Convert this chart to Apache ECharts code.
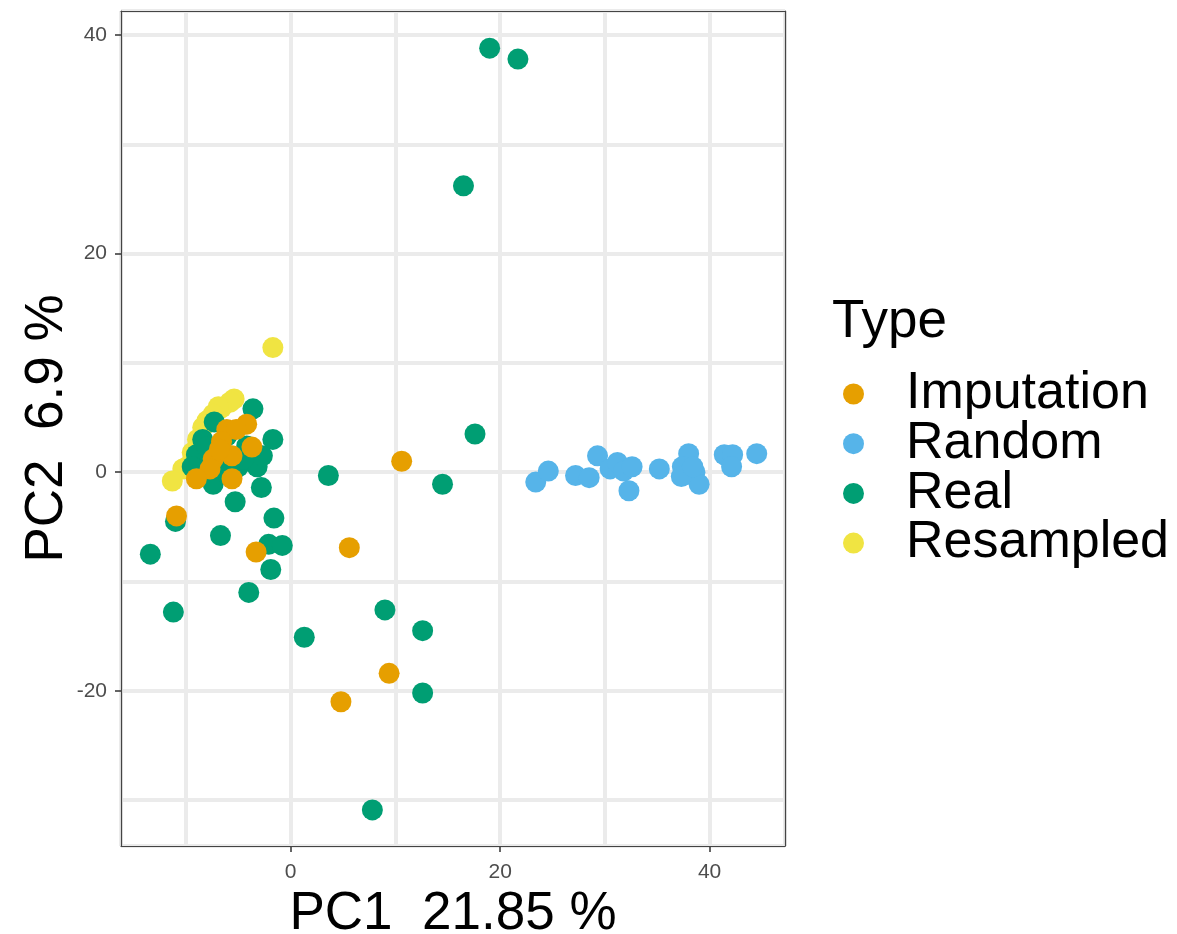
<!DOCTYPE html>
<html>
<head>
<meta charset="utf-8">
<title>PCA</title>
<script src="https://cdn.jsdelivr.net/npm/echarts@6/dist/echarts.min.js"></script>
<style>
  html, body { margin: 0; padding: 0; background: #fff; }
  #main { width: 1177px; height: 934px; }
</style>
</head>
<body>
<div id="main"></div>
<script>
// PC1 / PC2 scores, one array per Type
var types = ['Imputation', 'Random', 'Real', 'Resampled'];

var imputation = [
  [-10.9, -4.0], [-3.3, -7.3], [10.6, 1.0], [5.6, -6.9], [9.4, -18.4], [4.8, -21.0],
  [-4.2, 4.4], [-6.1, 3.9], [-5.2, 3.9], [-6.6, 2.8], [-3.7, 2.3], [-5.6, 1.5],
  [-7.4, 1.2], [-7.7, 0.3], [-9.0, -0.6], [-5.6, -0.6], [-6.8, 2.1]
];

var random = [
  [23.4, -0.9], [24.6, 0.1], [27.2, -0.3], [28.5, -0.5], [29.3, 1.5], [30.5, 0.3],
  [31.2, 0.9], [31.8, 0.1], [32.6, 0.5], [32.3, -1.7], [35.2, 0.3], [38.0, 1.7],
  [37.4, 0.5], [37.8, -0.2], [38.6, 0.0], [39.0, -1.1], [37.3, -0.4], [38.4, 0.5],
  [41.4, 1.6], [42.2, 1.6], [42.1, 0.5], [44.5, 1.7]
];

var real = [
  [19.0, 38.8], [21.7, 37.8], [16.5, 26.2], [17.6, 3.5], [14.5, -1.1], [3.6, -0.3],
  [-13.4, -7.5], [-11.0, -4.5], [-6.7, -5.8], [-1.6, -4.2], [-2.1, -6.6], [-0.8, -6.7],
  [-1.9, -8.9], [-4.0, -11.0], [-11.2, -12.8], [1.3, -15.1], [-5.3, -2.7], [9.0, -12.6],
  [12.6, -14.5], [12.6, -20.2], [7.8, -30.9],
  [-3.6, 5.8], [-1.7, 3.0], [-2.8, -1.4], [-7.3, 4.6], [-9.0, 1.6], [-9.4, 0.5],
  [-7.4, -1.1], [-3.2, 0.5], [-2.7, 1.5], [-4.2, 2.4], [-8.4, 3.0], [-6.1, 3.3],
  [-6.5, 1.0], [-5.0, 0.5], [-4.5, 1.2], [-8.0, 2.3], [-6.0, -0.2]
];

var resampled = [
  [-1.7, 11.4], [-5.4, 6.7], [-5.8, 6.4], [-6.6, 5.9], [-6.9, 6.0], [-7.4, 5.3],
  [-8.0, 4.7], [-8.4, 4.1], [-8.9, 3.0], [-9.4, 1.8], [-9.9, 0.5], [-10.3, 0.3],
  [-11.3, -0.8]
];

var xRange = [-16.2, 47.2];
var yRange = [-34.2, 42.2];

var colors = {
  Imputation: '#E69F00',
  Random: '#56B4E9',
  Real: '#009E73',
  Resampled: '#F0E442'
};

var chart = echarts.init(document.getElementById('main'));

function pts(name, data) {
  return {
    name: name,
    type: 'scatter',
    data: data,
    symbol: 'circle',
    symbolSize: 21,
    itemStyle: { color: colors[name], opacity: 1 },
    emphasis: { disabled: true }
  };
}

var gridLine = { show: true, lineStyle: { color: '#ebebeb', width: 4 } };

// extra axes that only draw the panel border, above the grey grid lines
function borderAxis(pos, range) {
  return {
    type: 'value', position: pos, min: range[0], max: range[1], z: 5,
    axisLine: { show: true, onZero: false, lineStyle: { color: '#444', width: 1.2 } },
    axisTick: { show: false }, axisLabel: { show: false }, splitLine: { show: false }
  };
}

option = {
  backgroundColor: '#fff',
  animation: false,
  textStyle: { fontFamily: 'Liberation Sans, Arial, sans-serif' },
  title: {
    text: 'Type',
    left: 832,
    top: 296,
    padding: 0,
    textStyle: { fontSize: 53, fontWeight: 'normal', color: '#000' }
  },
  legend: {
    orient: 'vertical',
    left: 843,
    top: 368,
    padding: 0,
    itemGap: -2.3,
    itemWidth: 21,
    itemHeight: 21,
    icon: 'circle',
    data: types,
    textStyle: { fontSize: 52, lineHeight: 49.5, color: '#000', padding: [0, 0, 0, 37] }
  },
  grid: { left: 121, right: 392, top: 11, bottom: 88, outerBoundsMode: 'none', containLabel: false },
  xAxis: [{
    type: 'value',
    position: 'bottom',
    min: xRange[0],
    max: xRange[1],
    splitNumber: 3,
    name: 'PC1  21.85 %',
    nameLocation: 'middle',
    nameGap: 36,
    nameTextStyle: { fontSize: 53, color: '#000' },
    axisLine: { show: false, onZero: false },
    axisTick: { show: true, length: 6, lineStyle: { color: '#333', width: 1.5 } },
    axisLabel: { fontSize: 21, color: '#4d4d4d', margin: 16, showMinLabel: false, showMaxLabel: false },
    splitLine: gridLine,
    minorTick: { show: false, splitNumber: 2 },
    minorSplitLine: gridLine
  },
  borderAxis('bottom', xRange),
  borderAxis('top', xRange)],
  yAxis: [{
    type: 'value',
    position: 'left',
    min: yRange[0],
    max: yRange[1],
    splitNumber: 4,
    name: 'PC2  6.9 %',
    nameLocation: 'middle',
    nameGap: 47,
    nameMoveOverlap: false,
    nameTextStyle: { fontSize: 53, color: '#000' },
    axisLine: { show: false, onZero: false },
    axisTick: { show: true, length: 6, lineStyle: { color: '#333', width: 1.5 } },
    axisLabel: { fontSize: 21, color: '#4d4d4d', margin: 14, showMinLabel: false, showMaxLabel: false },
    splitLine: gridLine,
    minorTick: { show: false, splitNumber: 2 },
    minorSplitLine: gridLine
  },
  borderAxis('left', yRange),
  borderAxis('right', yRange)],
  // drawing order: yellow below, then green, blue, orange on top
  series: [
    pts('Resampled', resampled),
    pts('Real', real),
    pts('Random', random),
    pts('Imputation', imputation)
  ]
};

chart.setOption(option);
</script>
</body>
</html>
